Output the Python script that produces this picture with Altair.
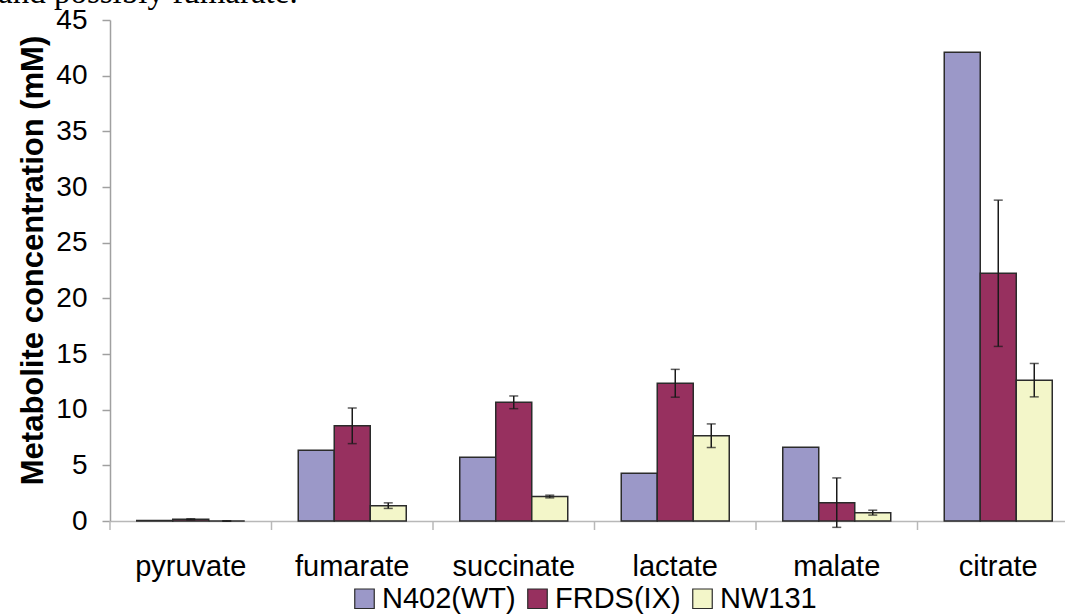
import altair as alt
import pandas as pd

# Metabolite concentrations (mM) per strain
metabolites = ["pyruvate", "fumarate", "succinate", "lactate", "malate", "citrate"]
strains = ["N402(WT)", "FRDS(IX)", "NW131"]
strain_colors = ["#9b98c8", "#97305f", "#f3f6c9"]

n402 = [0.05, 6.35, 5.72, 4.28, 6.62, 42.1]
frds = [0.15, 8.55, 10.66, 12.37, 1.65, 22.25]
nw131 = [0.0, 1.38, 2.2, 7.66, 0.75, 12.65]

frds_err = [0.05, 1.6, 0.57, 1.25, 2.22, 6.57]
nw131_err = [0.02, 0.25, 0.12, 1.06, 0.22, 1.5]

rows = []
for i, m in enumerate(metabolites):
    rows.append({"metabolite": m, "strain": strains[0], "value": n402[i], "err": None})
    rows.append({"metabolite": m, "strain": strains[1], "value": frds[i], "err": frds_err[i]})
    rows.append({"metabolite": m, "strain": strains[2], "value": nw131[i], "err": nw131_err[i]})
df = pd.DataFrame(rows)
df["lo"] = df["value"] - df["err"]
df["hi"] = df["value"] + df["err"]
err_df = df.dropna(subset=["err"])

FONT = "Liberation Sans"
W, H = 955, 501

x_scale = alt.Scale(domain=metabolites, range=[0, 969], paddingInner=0, paddingOuter=0)
off_scale = alt.Scale(domain=strains, paddingOuter=0.743, paddingInner=0)
y_scale = alt.Scale(domain=[0, 45], nice=False)

x_enc = alt.X(
    "metabolite:N",
    scale=x_scale,
    sort=metabolites,
    axis=alt.Axis(
        title=None, ticks=False, tickSize=0, labelAngle=0, labelPadding=45,
        labelBaseline="middle", labelFontSize=29, labelFont=FONT, labelColor="#000",
        domainColor="#b8b8b8", domainWidth=1.5,
    ),
)

bars = alt.Chart(df).mark_bar(stroke="#2b2b2b", strokeWidth=1.5).encode(
    x=x_enc,
    xOffset=alt.XOffset("strain:N", scale=off_scale, sort=strains),
    y=alt.Y(
        "value:Q",
        scale=y_scale,
        axis=alt.Axis(
            values=list(range(0, 50, 5)), grid=False, tickSize=8, tickColor="#a0a0a0",
            domainColor="#a0a0a0", domainWidth=1.5, tickWidth=1.5, labelPadding=15,
            labelFontSize=28, labelFont=FONT, labelColor="#000",
            title="Metabolite concentration (mM)", titleFont=FONT, titleFontSize=31,
            titleFontWeight="bold", titleColor="#000", titleAngle=270,
            titleAlign="center", titleBaseline="middle", titleX=-77, titleY=240,
        ),
    ),
    color=alt.Color(
        "strain:N",
        scale=alt.Scale(domain=strains, range=strain_colors),
        sort=strains,
        legend=alt.Legend(
            title=None, orient="none", direction="horizontal", legendX=240, legendY=564,
            symbolType="square", symbolSize=380, symbolStrokeColor="#2b2b2b",
            symbolStrokeWidth=1.2, symbolOpacity=1, labelFont=FONT, labelFontSize=29,
            labelColor="#000", labelOffset=3, columnPadding=7, padding=0,
        ),
    ),
)

err_rule = alt.Chart(err_df).mark_rule(color="#1a1a1a", strokeWidth=1.5).encode(
    x=alt.X("metabolite:N", scale=x_scale, sort=metabolites),
    xOffset=alt.XOffset("strain:N", scale=off_scale, sort=strains),
    y=alt.Y("lo:Q", scale=y_scale),
    y2="hi:Q",
)

cap_lo = alt.Chart(err_df).mark_tick(
    color="#1a1a1a", orient="horizontal", size=9, thickness=1.5
).encode(
    x=alt.X("metabolite:N", scale=x_scale, sort=metabolites),
    xOffset=alt.XOffset("strain:N", scale=off_scale, sort=strains),
    y=alt.Y("lo:Q", scale=y_scale),
)
cap_hi = cap_lo.encode(y=alt.Y("hi:Q", scale=y_scale))

# Category separators below the x axis
sep = alt.Chart(pd.DataFrame({"metabolite": metabolites})).mark_rule(
    color="#b8b8b8", strokeWidth=1.5
).encode(
    x=alt.X("metabolite:N", scale=x_scale, sort=metabolites, bandPosition=0),
    y=alt.value(H),
    y2=alt.value(H + 9),
)

# Tail of the preceding sentence
caption = alt.Chart(pd.DataFrame({"t": ["and possibly fumarate."]})).mark_text(
    font="Liberation Serif", fontSize=33, align="left", baseline="alphabetic", color="#000"
).encode(text="t:N", x=alt.value(-112), y=alt.value(-17))

chart = alt.layer(bars, err_rule, cap_lo, cap_hi, sep, caption).properties(
    width=W,
    height=H,
    padding={"left": 110, "top": 20, "right": 0, "bottom": 95},
    autosize=alt.AutoSizeParams(type="none"),
    background="#ffffff",
).configure_view(stroke=None)

chart.save("out.html", embed_options={"renderer": "svg", "actions": False})
